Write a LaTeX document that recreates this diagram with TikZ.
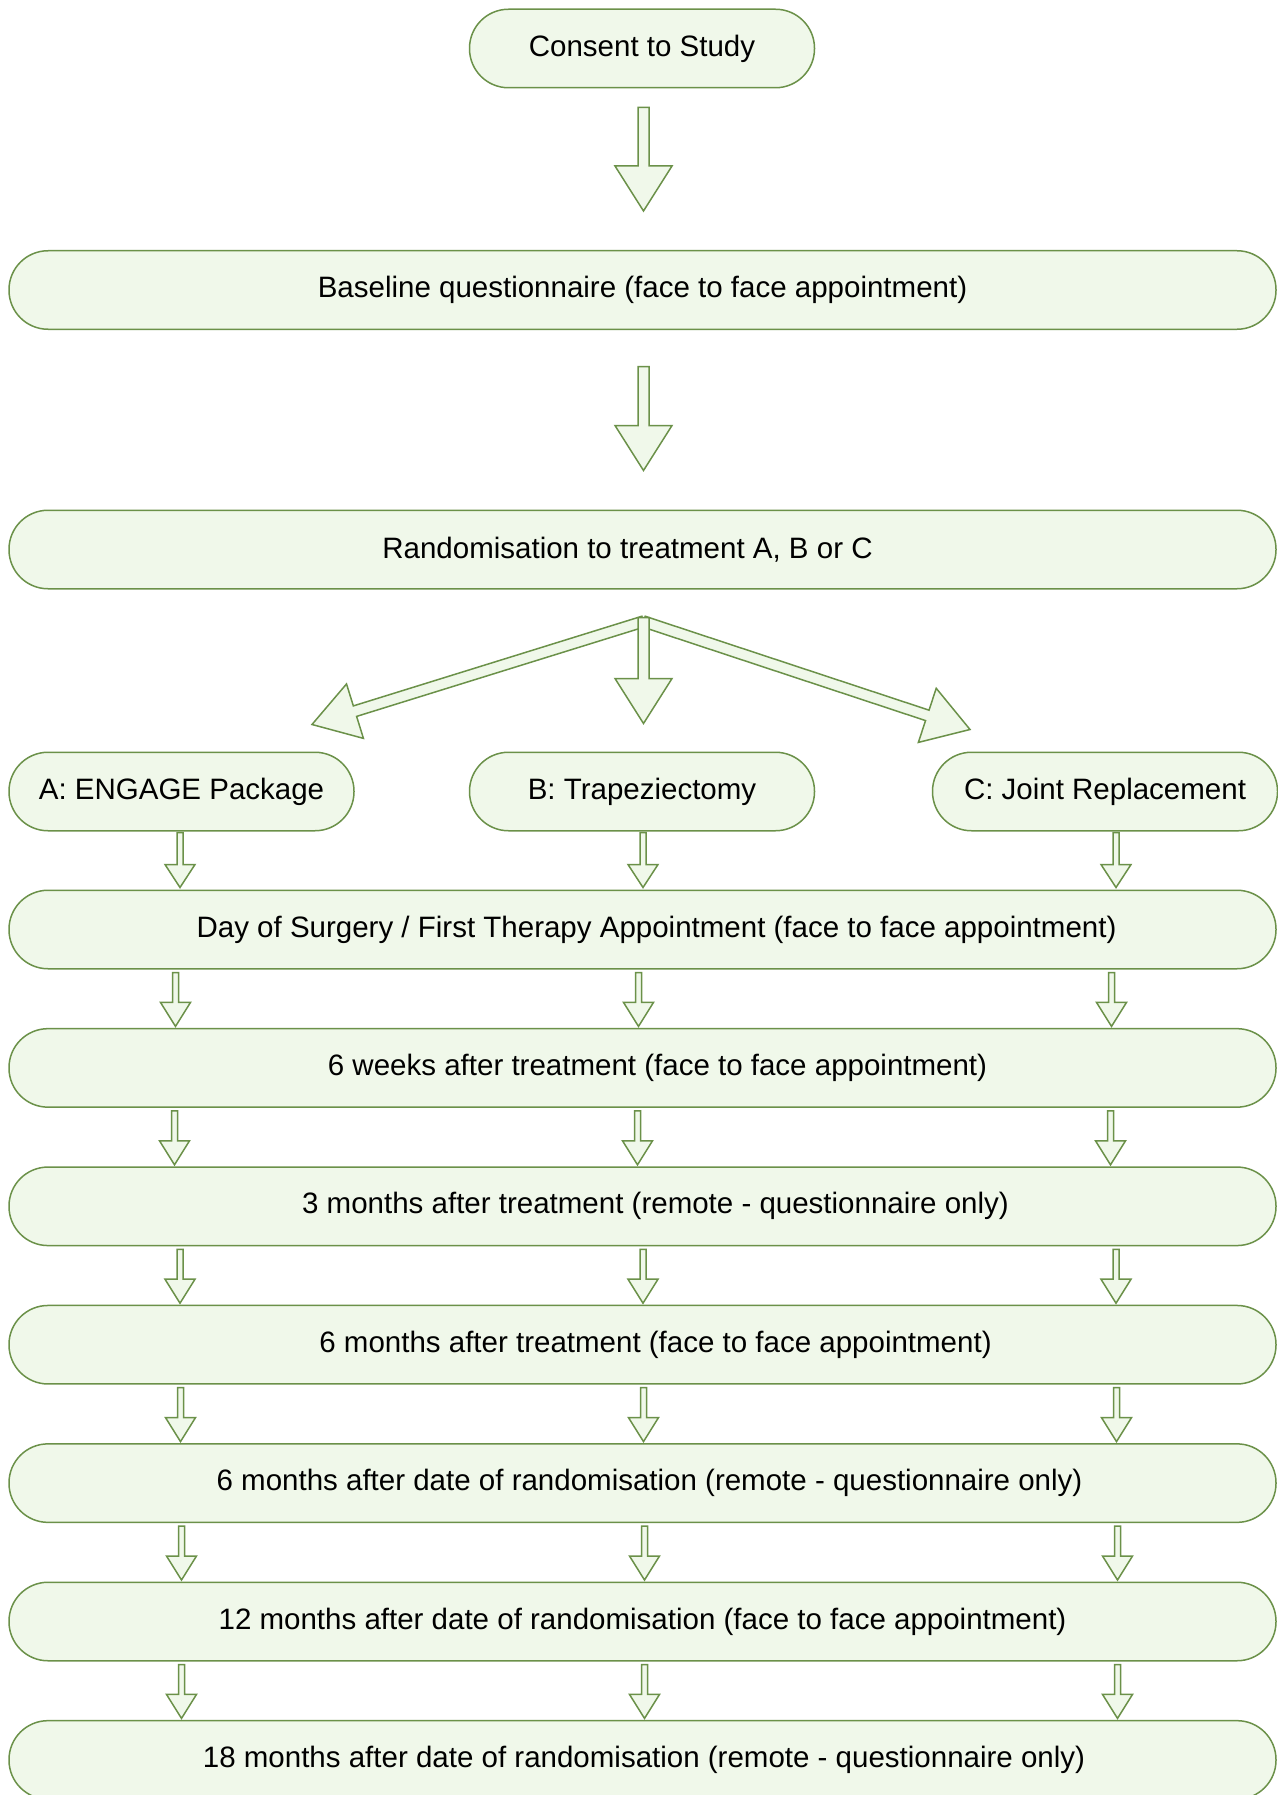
\documentclass[tikz,border=0pt]{standalone}
\usepackage{fontspec}
\setmainfont{Liberation Sans}
\usetikzlibrary{calc,positioning}
\definecolor{stagefill}{HTML}{F0F8EA}
\definecolor{stageline}{HTML}{6B9149}

\tikzset{
  stage/.style={draw=stageline, fill=stagefill, line width=1.5pt, rounded corners=39pt,
    minimum height=78.5pt, inner sep=0pt, font=\fontsize{29.5}{34}\selectfont},
  wide/.style={stage, minimum width=1267pt},
  short/.style={stage, minimum width=345pt},
  blockline/.style={draw=stageline, fill=stagefill, line width=1.5pt}
}

% block arrow: start, tip, half shaft, half head, head length
\newcommand{\blockarr}[5]{%
  \coordinate (bac) at ($(#2)!#5!(#1)$);
  \draw[blockline] ($(#1)!#3!90:(#2)$) -- ($(bac)!#3!-90:(#1)$) -- ($(bac)!#4!-90:(#1)$)
    -- (#2) -- ($(bac)!#4!90:(#1)$) -- ($(bac)!#3!90:(#1)$) -- ($(#1)!#3!-90:(#2)$) -- cycle;
}
% text moved sideways by #1 pt inside its box
\newcommand{\offtext}[2]{\hspace*{#1pt}\hspace*{#1pt}#2}

\begin{document}
\begin{tikzpicture}[x=1pt, y=-1pt]
\useasboundingbox (0,0) rectangle (1277,1795);

\node[short] (consent) at (642,48.5) {Consent to Study};
\node[wide] (base) at (642.5,290) {Baseline questionnaire (face to face appointment)};
\node[wide] (rand) at (642.5,549.5) {\offtext{-15}{Randomisation to treatment A, B or C}};
\node[short] (armA) at (181.5,791.5) {A: ENGAGE Package};
\node[short] (armB) at (642,791.5) {B: Trapeziectomy};
\node[short] (armC) at (1105,791.5) {C: Joint Replacement};

\foreach \dx/\txt [count=\i from 0] in {14/{Day of Surgery / First Therapy Appointment (face to face appointment)},
    15/{6 weeks after treatment (face to face appointment)},
    13/{3 months after treatment (remote - questionnaire only)},
    13/{6 months after treatment (face to face appointment)},
    7/{6 months after date of randomisation (remote - questionnaire only)},
    0/{12 months after date of randomisation (face to face appointment)},
    1.5/{18 months after date of randomisation (remote - questionnaire only)}}
  \node[wide] (r\i) at (642.5,{929.5+138.4*\i}) {\offtext{\dx}{\txt}};

% big arrows
\coordinate (c1) at ($(consent.south)+(1.5,19)$);
\coordinate (b1) at ($(base.north)+(1,-39)$);
\blockarr{c1}{b1}{5.5pt}{28.5pt}{45pt}
\coordinate (c2) at ($(base.south)+(1,36.5)$);
\coordinate (b2) at ($(rand.north)+(1,-39)$);
\blockarr{c2}{b2}{5.5pt}{28.5pt}{45pt}

% split to the three arms
\coordinate (split) at ($(rand.south)+(1,32)$);
\coordinate (tipA) at ($(armA.north)+(130.5,-27)$);
\coordinate (tipC) at ($(armC.north)+(-135,-22)$);
\blockarr{split}{tipA}{5.5pt}{28.5pt}{45pt}
\blockarr{split}{tipC}{5.5pt}{28.5pt}{45pt}
\coordinate (splitB) at ($(rand.south)+(1,28)$);
\coordinate (tipB) at ($(armB.north)+(1.5,-28)$);
\blockarr{splitB}{tipB}{5.5pt}{28.5pt}{45pt}

% small arrows
\foreach \arm/\dx in {armA/-1.5,armB/1,armC/11}{
  \coordinate (s) at ($(\arm.south)+(\dx,1)$);
  \coordinate (e) at ($(r0.north -| s)+(0,-2)$);
  \blockarr{s}{e}{3pt}{15pt}{23pt}
}
\foreach \s [count=\k] in {-4.5,-5.5,0,0.5,1.5,1.5}{
  \pgfmathtruncatemacro{\j}{\k-1}
  \foreach \x in {180,643,1116}{
    \coordinate (tmp) at ({\x+\s},0);
    \coordinate (s) at ($(r\j.south -| tmp)+(0,3)$);
    \coordinate (e) at ($(r\k.north -| tmp)+(0,-1.5)$);
    \blockarr{s}{e}{3pt}{15pt}{24pt}
  }
}
\end{tikzpicture}
\end{document}
